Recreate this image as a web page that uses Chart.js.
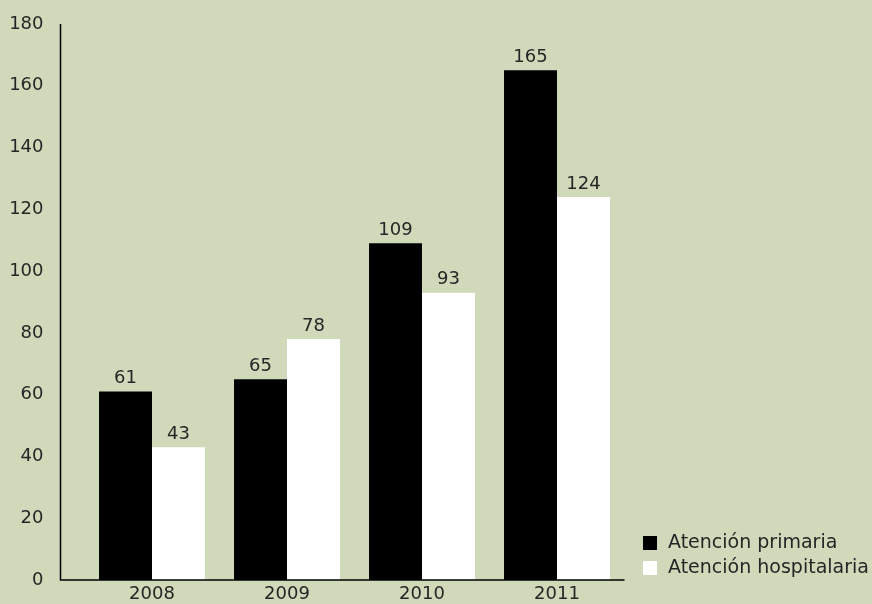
<!DOCTYPE html>
<html>
<head>
<meta charset="utf-8">
<script src="https://cdn.jsdelivr.net/npm/chart.js@4/dist/chart.umd.min.js"></script>
<style>
  html, body { margin: 0; padding: 0; background: #d0d9b9; overflow: hidden; }
  canvas { display: block; }
</style>
</head>
<body>
<canvas id="chart" width="872" height="604"></canvas>
<script>
// ---- data ----
const years = ['2008', '2009', '2010', '2011'];
const primaria = [61, 65, 109, 165];
const hospitalaria = [43, 78, 93, 124];
const yTicks = [0, 20, 40, 60, 80, 100, 120, 140, 160, 180];

const FONT = 'DejaVu Sans';
const TEXT = '#262626';

// value labels above each bar
const barLabels = {
    id: 'barLabels',
    afterDatasetsDraw(chart) {
        const ctx = chart.ctx;
        ctx.save();
        ctx.font = `18px "${FONT}"`;
        ctx.fillStyle = TEXT;
        ctx.textAlign = 'center';
        ctx.textBaseline = 'bottom';
        chart.data.datasets.forEach((ds, i) => {
            chart.getDatasetMeta(i).data.forEach((bar, j) => {
                ctx.fillText(String(ds.data[j]), bar.x, bar.y - 4);
            });
        });
        ctx.restore();
    }
};

// axis lines: y line sits left of the first category, x line runs under it
const axisLines = {
    id: 'axisLines',
    afterDraw(chart) {
        const ctx = chart.ctx;
        const y = chart.scales.y;
        const x0 = 60.5;
        const top = y.getPixelForValue(180);
        const bottom = y.getPixelForValue(0);
        ctx.save();
        ctx.strokeStyle = '#000';
        ctx.lineWidth = 1.5;
        ctx.beginPath();
        ctx.moveTo(x0, top);
        ctx.lineTo(x0, bottom);
        ctx.lineTo(chart.chartArea.right, bottom);
        ctx.stroke();
        ctx.restore();
    }
};

// legend in the bottom-right corner, built from the datasets
const cornerLegend = {
    id: 'cornerLegend',
    afterDraw(chart) {
        const ctx = chart.ctx;
        ctx.save();
        ctx.font = `19px "${FONT}"`;
        ctx.textAlign = 'left';
        ctx.textBaseline = 'middle';
        chart.data.datasets.forEach((ds, i) => {
            const top = 536 + i * 25;
            ctx.fillStyle = ds.backgroundColor;
            ctx.fillRect(643, top, 14, 14);
            ctx.fillStyle = TEXT;
            ctx.fillText(ds.label, 668, top + 7);
        });
        ctx.restore();
    }
};

new Chart(document.getElementById('chart'), {
    type: 'bar',
    data: {
        labels: years,
        datasets: [
            { label: 'Atención primaria', data: primaria, backgroundColor: '#000000', borderWidth: 0 },
            { label: 'Atención hospitalaria', data: hospitalaria, backgroundColor: '#ffffff', borderWidth: 0 },
        ]
    },
    options: {
        responsive: false,
        animation: false,
        layout: { padding: { top: 24, right: 247.5, left: 0, bottom: 0 } },
        datasets: { bar: { categoryPercentage: 0.785, barPercentage: 1 } },
        plugins: {
            tooltip: { enabled: false },
            legend: { display: false }
        },
        scales: {
            x: {
                grid: { display: false, drawTicks: false },
                border: { display: false },
                ticks: { color: TEXT, font: { family: FONT, size: 18 }, padding: 4 },
                afterFit(scale) {
                    scale.height = 24;
                    scale.paddingLeft = 0;
                    scale.paddingRight = 0;
                }
            },
            y: {
                min: 0, max: 180,
                afterBuildTicks(scale) { scale.ticks = yTicks.map(v => ({ value: v })); },
                grid: { display: false, drawTicks: false },
                border: { display: false },
                ticks: { color: TEXT, font: { family: FONT, size: 18 }, padding: 41 },
                afterFit(scale) {
                    scale.width = 84.5;
                    scale.paddingTop = 0;
                    scale.paddingBottom = 0;
                }
            }
        }
    },
    plugins: [barLabels, axisLines, cornerLegend]
});
</script>
</body>
</html>
